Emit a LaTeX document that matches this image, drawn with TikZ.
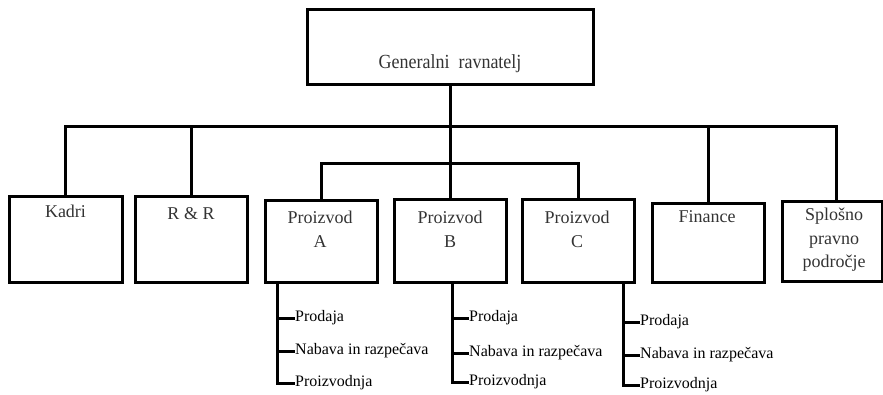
\documentclass[tikz,border=0pt]{standalone}
\usepackage{fontspec}
\usepackage{graphicx}
\setmainfont{Liberation Serif}
\usetikzlibrary{calc}
\begin{document}
\begin{tikzpicture}[x=1pt,y=-1pt,
  box/.style={draw, rectangle, inner sep=0pt, line width=3pt},
  ttl/.style={font=\fontsize{18}{24}\selectfont, text=black!80, align=center, inner sep=0pt, anchor=north},
  subl/.style={font=\fontsize{16}{19}\selectfont, inner sep=0pt, anchor=west, text height=11pt, text depth=3.5pt},
  conn/.style={line width=3pt, line join=miter}]
\useasboundingbox (0,0) rectangle (883,394);

% boxes
\node[box, minimum width=286pt, minimum height=75pt] (gen) at (450,46.5) {};
\node[box, minimum width=113pt, minimum height=86pt] (kadri) at (65.5,239) {};
\node[box, minimum width=112pt, minimum height=86pt] (rr) at (191,239) {};
\node[box, minimum width=112pt, minimum height=82pt] (pa) at (321,241) {};
\node[box, minimum width=112pt, minimum height=83pt] (pb) at (450,240.5) {};
\node[box, minimum width=112pt, minimum height=83pt] (pc) at (578,240.5) {};
\node[box, minimum width=112pt, minimum height=79pt] (fin) at (708,242.5) {};
\node[box, minimum width=100pt, minimum height=80pt] (spl) at (832,241) {};

% box texts
\node[anchor=base, inner sep=0pt, text=black!80] (gent) at (450,68)
  {\scalebox{0.9}[1]{\fontsize{20}{24}\selectfont Generalni\ \ ravnatelj}};
\node[ttl] (kadrit) at (65.5,204.7) {Kadri};
\node[ttl] (rrt) at (191,207.7) {R \& R};
\node[ttl] (pat) at (320,210.7) {Proizvod\\A};
\node[ttl] (pbt) at (450,210.7) {Proizvod\\B};
\node[ttl] (pct) at (577,210.7) {Proizvod\\C};
\node[ttl] (fint) at (707,210.7) {Finance};
\node[ttl, font=\fontsize{18}{23.5}\selectfont] (splt) at (834,208) {Splošno\\pravno\\področje};

% main connectors
\coordinate (j0) at (450,126);
\coordinate (j1) at (450,163);
\draw[conn] (gen.south) -- (j0);
\draw[conn] (kadri.north) |- (j0);
\draw[conn] (rr.north) -- (rr.north |- j0);
\coordinate (jr) at (836,126);
\draw[conn] (j0) -| (spl.north -| jr);
\draw[conn] (fin.north) -- (fin.north |- j0);
\draw[conn] (j0) -- (pb.north);
\draw[conn] (pa.north) |- (j1) -| (pc.north);

% sub-trees
\coordinate (ar) at (277,282);
\coordinate (br) at (452,282);
\coordinate (cr) at (623,282);

\node[subl] (a1) at (295,318) {Prodaja};
\node[subl] (a2) at (295,351) {Nabava in razpečava};
\node[subl] (a3) at (295,383) {Proizvodnja};
\draw[conn] (ar) |- (a1.west);
\draw[conn] (ar) |- (a2.west);
\draw[conn] (ar) |- (a3.west);

\node[subl] (b1) at (469,318) {Prodaja};
\node[subl] (b2) at (469,353) {Nabava in razpečava};
\node[subl] (b3) at (469,382) {Proizvodnja};
\draw[conn] (br) |- (b1.west);
\draw[conn] (br) |- (b2.west);
\draw[conn] (br) |- (b3.west);

\node[subl] (c1) at (640,322) {Prodaja};
\node[subl] (c2) at (640,355) {Nabava in razpečava};
\node[subl] (c3) at (640,385) {Proizvodnja};
\draw[conn] (cr) |- (c1.west);
\draw[conn] (cr) |- (c2.west);
\draw[conn] (cr) |- (c3.west);
\end{tikzpicture}
\end{document}
